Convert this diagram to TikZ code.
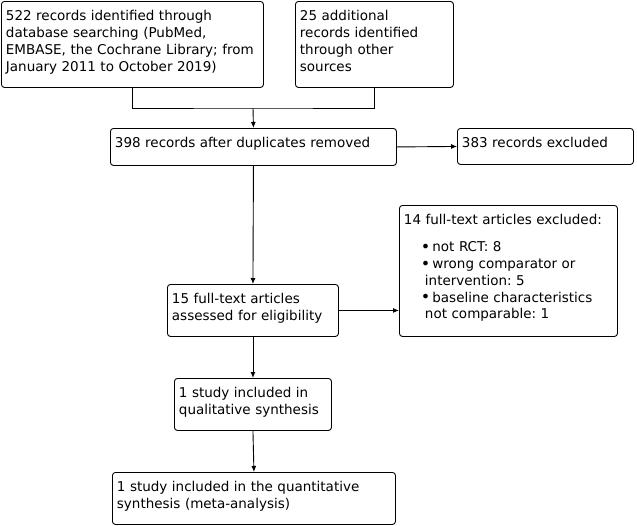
\documentclass[tikz,border=0pt]{standalone}
\usepackage{fontspec}
\setmainfont{DejaVu Sans}
\usetikzlibrary{arrows.meta,calc}
\tikzset{
  ar/.style={-{Latex[length=6pt,width=5pt]},line width=0.9pt},
  ln/.style={line width=0.9pt},
  box/.style={draw,line width=0.9pt,rounded corners=3pt,anchor=north west,align=left,
    inner xsep=4.5pt,inner ysep=6pt,text height=13.5pt,
    font=\fontsize{13.5}{16.7}\selectfont\frenchspacing}
}
\newcommand{\bul}{\hspace*{17pt}{\fontsize{16}{16}\selectfont\raisebox{-0.6pt}{\textbullet}}\hspace{2pt}}
\newcommand{\cont}{\hspace*{21pt}}

\begin{document}
\begin{tikzpicture}[x=1pt,y=-1pt]
\useasboundingbox (0,0) rectangle (637,525);
% identification
\node[box,text width=253pt,text depth=60.5pt] (search) at (1,1)
  {522 records identified through\\database searching (PubMed,\\EMBASE, the Cochrane Library; from\\January 2011 to October 2019)};
\node[box,text width=149pt,text depth=60.5pt] (other) at (295,1)
  {25 additional\\records identified\\through other\\sources};
% screening
\node[box,text width=277pt,text depth=11.5pt] (dedup) at (110,128)
  {398 records after duplicates removed};
\node[box,text width=167pt,text depth=10.5pt] (excl) at (457,128)
  {383 records excluded};
% eligibility
\node[box,text width=209pt,text depth=105.5pt] (ftexcl) at (399,205)
  {14 full-text articles excluded:\\[10.3pt]
   \bul not RCT: 8\\
   \bul wrong comparator or\\
   \cont intervention: 5\\
   \bul baseline characteristics\\
   \cont not comparable: 1};
\node[box,text width=162pt,text depth=26.5pt] (assess) at (167,284)
  {15 full-text articles\\assessed for eligibility};
% included
\node[box,text width=148pt,text depth=26.5pt] (qual) at (174,378)
  {1 study included in\\qualitative synthesis};
\node[box,text width=274pt,text depth=26.5pt] (quant) at (112,472)
  {1 study included in the quantitative\\synthesis (meta-analysis)};

\coordinate (join) at (253,108);
\draw[ln] (search.south) |- (join) -| (other.south);
\draw[ar] (join) -- (dedup.north);
\draw[ar] (dedup.east) -- (excl.west);
\draw[ar] (dedup.south) -- (assess.north);
\draw[ar] (assess.east) -- (assess.east -| ftexcl.west);
\draw[ar] (assess.south) -- (qual.north);
\draw[ar] (qual.south) -- (quant.north);
\end{tikzpicture}
\end{document}
